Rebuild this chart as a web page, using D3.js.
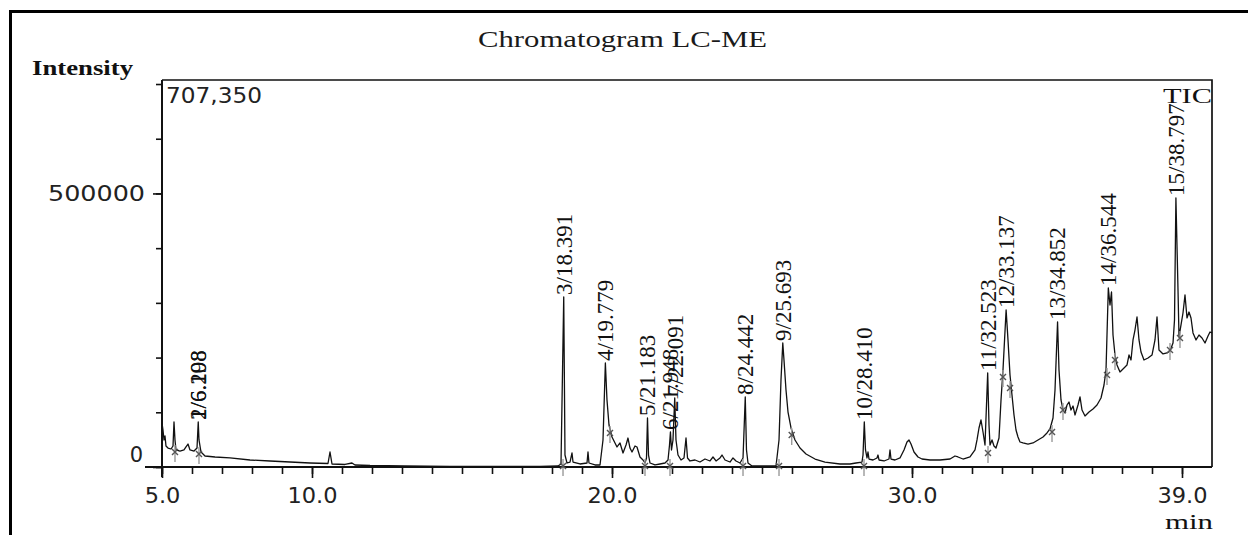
<!DOCTYPE html>
<html><head><meta charset="utf-8">
<script src="https://cdn.jsdelivr.net/npm/d3@7"></script>
<style>
html,body{margin:0;padding:0;background:#fff;}
svg{display:block;}
.serif{font-family:"Liberation Serif","Times New Roman",Times,serif;}
</style></head><body>
<svg id="c" width="1248" height="535"></svg>
<script>
// ---- data ----
const rtMin = [
5.000,5.033,5.067,5.100,5.133,5.200,5.300,5.367,5.400,5.433,5.467,5.600,5.733,5.800,5.867,5.933,6.067,6.167,6.208,6.233,
6.300,6.433,6.767,7.267,7.933,8.600,9.267,9.933,10.533,10.600,10.667,11.100,11.333,11.433,11.933,13.100,14.600,16.267,17.600,18.200,
18.300,18.391,18.433,18.500,18.600,18.667,18.700,18.933,19.167,19.200,19.233,19.433,19.600,19.700,19.779,19.833,19.900,20.000,20.100,20.167,
20.267,20.367,20.467,20.533,20.600,20.667,20.767,20.833,20.933,21.033,21.100,21.150,21.183,21.217,21.267,21.433,21.600,21.767,21.867,21.917,
21.948,21.983,22.033,22.091,22.133,22.200,22.300,22.400,22.467,22.517,22.600,22.767,22.933,23.100,23.267,23.367,23.467,23.600,23.667,23.767,
23.933,24.033,24.133,24.267,24.367,24.442,24.483,24.533,24.667,24.933,25.267,25.467,25.567,25.633,25.693,25.733,25.800,25.867,25.967,26.100,
26.267,26.467,26.767,27.100,27.600,27.933,28.133,28.333,28.367,28.410,28.450,28.500,28.533,28.567,28.700,28.833,28.867,28.900,29.067,29.233,
29.267,29.300,29.433,29.600,29.733,29.833,29.900,29.967,30.067,30.200,30.333,30.600,30.933,31.267,31.433,31.533,31.700,31.933,32.100,32.167,
32.233,32.300,32.367,32.433,32.523,32.567,32.600,32.667,32.733,32.800,32.900,32.967,33.033,33.137,33.200,33.267,33.333,33.400,33.467,33.533,
33.600,33.700,33.867,34.033,34.200,34.367,34.500,34.600,34.700,34.767,34.852,34.900,34.967,35.033,35.100,35.167,35.233,35.300,35.367,35.433,
35.533,35.600,35.667,35.767,35.900,36.033,36.167,36.300,36.400,36.467,36.544,36.600,36.650,36.700,36.767,36.833,36.933,37.067,37.167,37.233,
37.300,37.367,37.433,37.500,37.567,37.633,37.733,37.867,38.000,38.100,38.167,38.233,38.367,38.500,38.600,38.700,38.750,38.797,38.867,38.900,
38.967,39.033,39.100,39.167,39.233,39.300,39.367,39.467,39.567,39.667,39.767,39.867,39.933,40.000
];
const tic = [
80400,67600,49400,56700,38400,34700,32900,38400,82300,49400,31100,29200,31100,36600,42000,31100,29200,34700,82300,49400,
27400,20100,18300,16500,12800,11000,9100,7300,6400,27400,5500,4600,7300,3700,2700,1800,900,900,900,1800,
5500,310800,21900,7300,9100,25600,9100,5500,7300,27400,7300,3700,3700,49400,190100,122500,76800,54800,43900,36600,
43900,25600,40200,53000,34700,27400,38400,36600,18300,12800,7300,16500,89600,21900,7300,3700,5500,7300,12800,40200,
64000,31100,49400,126100,49400,21900,12800,16500,53000,16500,11000,12800,9100,14600,11000,18300,11000,16500,21900,12800,
9100,16500,11000,7300,16500,128000,31100,7300,1800,1800,1800,1800,49400,159000,226700,195600,140800,100500,71300,49400,
34700,23800,14600,9100,5500,5500,7300,9100,21900,82300,31100,16500,27400,14600,12800,16500,21900,12800,11000,14600,
31100,14600,12800,16500,31100,45700,49400,42000,27400,18300,14600,12800,12800,14600,20100,18300,14600,18300,31100,49400,
71300,85900,64000,40200,171800,76800,40200,49400,38400,34700,53000,122500,177300,287000,232200,168200,131600,95100,67600,54800,
45700,43900,42000,43900,49400,54800,62200,69500,89600,140800,265100,177300,122500,104200,98700,113300,118800,104200,111500,95100,
113300,128000,104200,93200,100500,106000,113300,126100,149900,177300,327200,296100,319900,241300,204700,186500,173700,181000,186500,204700,
195600,232200,250400,274200,232200,210200,195600,199300,204700,232200,274200,213900,206600,208400,212000,226700,268700,491700,323600,237600,
259600,281500,314400,272400,283300,272400,245000,232200,241300,235800,226700,239500,246800,245000
];
const peakLabels  = ["1/6.198","2/6.208","3/18.391","4/19.779","5/21.183","6/21.948","7/22.091","8/24.442",
                     "9/25.693","10/28.410","11/32.523","12/33.137","13/34.852","14/36.544","15/38.797"];
const peakTimes   = [6.198,6.208,18.391,19.779,21.183,21.948,22.091,24.442,25.693,28.410,32.523,33.137,34.852,36.544,38.797];
const peakHeights = [82300,82300,310800,190100,89600,64000,126100,128000,226700,82300,171800,287000,265100,327200,491700];
const markTimes   = [5.433,6.233,18.367,19.933,21.100,21.933,24.367,25.567,25.990,28.400,32.533,33.033,33.267,34.667,35.033,36.500,36.767,38.600,38.933];
const markHeights = [27400,23800,1800,62200,1800,1800,1800,1800,58500,1800,25600,164500,144400,64000,104200,168200,195600,213900,235800];
const xTickValues = [5,10,20,30,39];
const xTickLabels = ["5.0","10.0","20.0","30.0","39.0"];
const yTickValues = [0,500000];
const yTickLabels = ["0","500000"];
const yMax = 707350;
const yMaxLabel = "707,350";
const titleText = "Chromatogram LC-ME";
const yAxisTitle = "Intensity";
const xAxisTitle = "min";
const traceName = "TIC";

// ---- drawing ----
const svg = d3.select("#c");
const L = 162, R = 1212, T = 80, B = 467;
const x = d3.scaleLinear().domain([5,40]).range([L,R]);
const y = d3.scaleLinear().domain([0,yMax]).range([B,T]);
const SANS = "'DejaVu Sans', Verdana, sans-serif";

svg.append("rect").attr("width",1248).attr("height",535).attr("fill","#fff");

// outer border (top + left visible)
svg.append("path").attr("d","M10.5,535 V11.5 H1248").attr("fill","none")
   .attr("stroke","#000").attr("stroke-width",3);

// plot frame
svg.append("path").attr("d",`M${L},${T} H${R} V${B}`).attr("fill","none")
   .attr("stroke","#111").attr("stroke-width",1.7);
svg.append("line").attr("x1",145).attr("x2",R).attr("y1",B).attr("y2",B)
   .attr("stroke","#111").attr("stroke-width",2);
svg.append("line").attr("x1",L).attr("x2",L).attr("y1",T).attr("y2",B+10)
   .attr("stroke","#111").attr("stroke-width",2);

// x axis ticks
const gxMinor = svg.append("g").attr("transform",`translate(0,${B})`)
  .call(d3.axisBottom(x).tickValues(d3.range(5,40,1)).tickSize(7).tickSizeOuter(0).tickFormat(""));
gxMinor.select(".domain").remove();
const gx = svg.append("g").attr("transform",`translate(0,${B})`)
  .call(d3.axisBottom(x).tickValues(xTickValues).tickSize(11).tickSizeOuter(0).tickPadding(10)
        .tickFormat((d,i)=>xTickLabels[i]));
gx.select(".domain").remove();
svg.selectAll(".tick line").attr("stroke","#111").attr("stroke-width",1.6);
gx.selectAll("text").attr("font-family",SANS).attr("font-size",21).attr("fill","#222")
  .each(function(){ const w=this.getComputedTextLength(); d3.select(this).attr("textLength",w*1.07).attr("lengthAdjust","spacingAndGlyphs"); });

// y axis ticks
const gyMinor = svg.append("g").attr("transform",`translate(${L},0)`)
  .call(d3.axisLeft(y).tickValues(d3.range(0,700001,100000)).tickSize(6).tickSizeOuter(0).tickFormat(""));
gyMinor.select(".domain").remove();
const gy = svg.append("g").attr("transform",`translate(${L},0)`)
  .call(d3.axisLeft(y).tickValues(yTickValues).tickSize(9).tickSizeOuter(0).tickPadding(8)
        .tickFormat((d,i)=>yTickLabels[i]));
gy.select(".domain").remove();
gy.selectAll(".tick line").attr("stroke","#111").attr("stroke-width",1.6);
gyMinor.selectAll(".tick line").attr("stroke","#111").attr("stroke-width",1.6);
gy.selectAll("text").attr("font-family",SANS).attr("font-size",21).attr("fill","#222")
  .each(function(d){
     const s=d3.select(this);
     if (d===0){ s.attr("y",-12).attr("x",-19); }
     else { s.attr("x",-17).attr("textLength",97).attr("lengthAdjust","spacingAndGlyphs"); }
  });

// trace
const pts = rtMin.map((t,i)=>[t,tic[i]]);
svg.append("path").datum(pts)
  .attr("d", d3.line().x(d=>x(d[0])).y(d=>y(d[1])))
  .attr("fill","none").attr("stroke","#111").attr("stroke-width",1.3).attr("stroke-linejoin","round");

// integration marks (gray)
const mg = svg.append("g").attr("stroke","#9a9a9a").attr("stroke-width",1.4).attr("fill","none");
markTimes.forEach((t,i)=>{
  const mx = x(t), my = y(markHeights[i]);
  mg.append("line").attr("x1",mx).attr("x2",mx).attr("y1",my-7).attr("y2",my+10);
  mg.append("path").attr("d",`M${mx-3},${my-3}L${mx+3},${my+3}M${mx-3},${my+3}L${mx+3},${my-3}`).attr("stroke","#555");
});

// peak labels (vertical, serif)
const lg = svg.append("g");
peakLabels.forEach((lab,i)=>{
  const px = x(peakTimes[i]), py = y(peakHeights[i]) - 2;
  lg.append("text").attr("class","serif").attr("font-size",23).attr("fill","#111")
    .attr("transform",`translate(${px},${py}) rotate(-90)`)
    .attr("dy","0.34em").attr("text-anchor","start").text(lab);
});

// texts
svg.append("text").attr("class","serif").attr("x",478).attr("y",46.5).attr("font-size",23)
   .attr("fill","#1a1a1a").attr("textLength",289).attr("lengthAdjust","spacingAndGlyphs").text(titleText);
svg.append("text").attr("class","serif").attr("x",32).attr("y",75).attr("font-size",22).attr("font-weight","bold")
   .attr("fill","#111").attr("textLength",101).attr("lengthAdjust","spacingAndGlyphs").text(yAxisTitle);
svg.append("text").attr("x",166).attr("y",103).attr("font-family",SANS).attr("font-size",21)
   .attr("fill","#222").attr("textLength",96).attr("lengthAdjust","spacingAndGlyphs").text(yMaxLabel);
svg.append("text").attr("class","serif").attr("x",1163).attr("y",103).attr("font-size",22)
   .attr("fill","#111").attr("textLength",49).attr("lengthAdjust","spacingAndGlyphs").text(traceName);
svg.append("text").attr("class","serif").attr("x",1165).attr("y",529).attr("font-size",22)
   .attr("fill","#111").attr("textLength",48).attr("lengthAdjust","spacingAndGlyphs").text(xAxisTitle);
</script>
</body></html>
